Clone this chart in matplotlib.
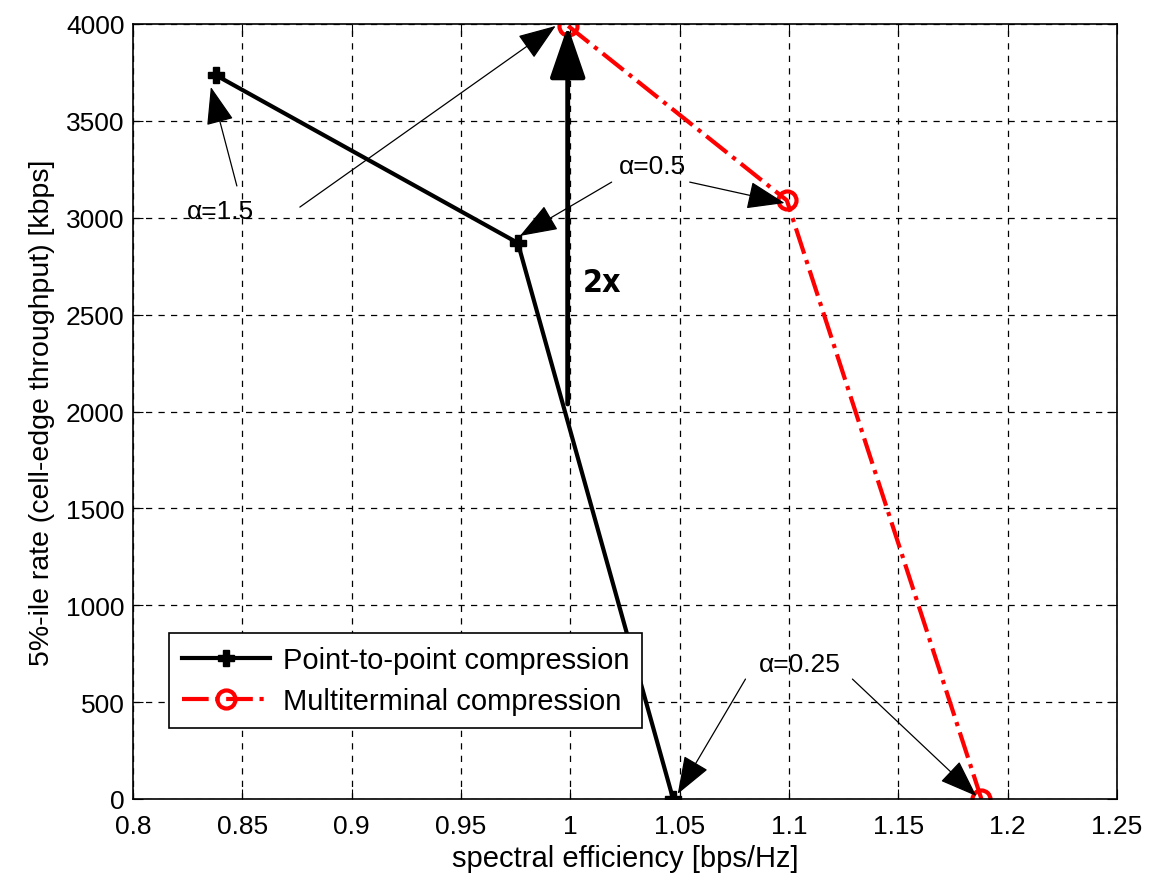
import matplotlib
matplotlib.use("Agg")
import matplotlib.pyplot as plt
from matplotlib import font_manager

plt.rcParams['font.family'] = ['Liberation Sans', 'DejaVu Sans']

p2p_x = [0.838, 0.976, 1.047]
p2p_y = [3735, 2870, 0]
mt_x = [0.999, 1.099, 1.188]
mt_y = [3990, 3090, 0]

xticks = [0.8, 0.85, 0.9, 0.95, 1.0, 1.05, 1.1, 1.15, 1.2, 1.25]
xticklabels = ['0.8', '0.85', '0.9', '0.95', '1', '1.05', '1.1', '1.15', '1.2', '1.25']
yticks = list(range(0, 4001, 500))

fig = plt.figure(figsize=(11.5, 8.78), dpi=100)
ax = fig.add_axes([133/1150, 78/878, 984/1150, 775/878])

ax.plot(p2p_x, p2p_y, color='black', lw=3, marker='P', ms=11,
        label='Point-to-point compression')
ax.plot(mt_x, mt_y, color='red', lw=3, ls='-.', marker='o', ms=13,
        mfc='none', mec='red', mew=3, label='Multiterminal compression')

ax.set_xlim(0.8, 1.25)
ax.set_ylim(0, 4000)
ax.set_xticks(xticks)
ax.set_xticklabels(xticklabels)
ax.set_yticks(yticks)
ax.tick_params(direction='in', labelsize=19, length=7, top=True, right=True, pad=6)
ax.tick_params(axis='x', pad=11)
ax.grid(True, color='black', ls=(0, (5, 5)), lw=0.9)
for s in ax.spines.values():
    s.set_linewidth(1.2)

ax.set_xlabel('spectral efficiency [bps/Hz]', fontsize=21, labelpad=4)
ax.set_ylabel('5%-ile rate (cell-edge throughput) [kbps]', fontsize=20.5, labelpad=8)

thin = dict(arrowstyle='-|>,head_length=1.5,head_width=0.55', color='black', lw=0.9,
            shrinkA=0, shrinkB=0, mutation_scale=16)

def arrow(tail, head, props=thin):
    ax.annotate('', xy=head, xytext=tail, arrowprops=props)

# alpha = 1.5
ax.text(0.8398, 3035, 'α=1.5', fontsize=19, ha='center', va='center')
arrow((0.8475, 3164), (0.8356, 3675))
arrow((0.8763, 3055), (0.9933, 3990))
# alpha = 0.5
ax.text(1.0377, 3267, 'α=0.5', fontsize=19, ha='center', va='center')
arrow((1.0189, 3184), (0.9769, 2906))
arrow((1.0546, 3184), (1.098, 3076))
# alpha = 0.25
ax.text(1.1048, 697, 'α=0.25', fontsize=19, ha='center', va='center')
arrow((1.0801, 619), (1.0491, 26))
arrow((1.129, 619), (1.1857, 15))

# 2x arrow
thick = dict(arrowstyle='-|>,head_length=1.6,head_width=0.55', color='black', lw=3.5,
             shrinkA=0, shrinkB=0, mutation_scale=20)
arrow((0.9988, 2039), (0.9988, 3990), thick)
names = {f.name for f in font_manager.fontManager.ttflist}
if 'Liberation Sans Narrow' in names:
    ax.text(1.0057, 2668, '2x', fontsize=26, fontweight='bold',
            family='Liberation Sans Narrow', ha='left', va='center')
else:
    ax.text(1.0057, 2668, '2x', fontsize=23, fontweight='bold', fontstretch='condensed',
            family='DejaVu Sans', ha='left', va='center')

leg = ax.legend(loc='lower left', bbox_to_anchor=(0.0366, 0.0916), fontsize=21,
                frameon=True, fancybox=False, edgecolor='black', framealpha=1,
                borderpad=0.45, handlelength=3.0, handletextpad=0.45,
                labelspacing=0.45, borderaxespad=0)
leg.get_frame().set_linewidth(1.2)

fig.savefig('out.png', dpi=100)
